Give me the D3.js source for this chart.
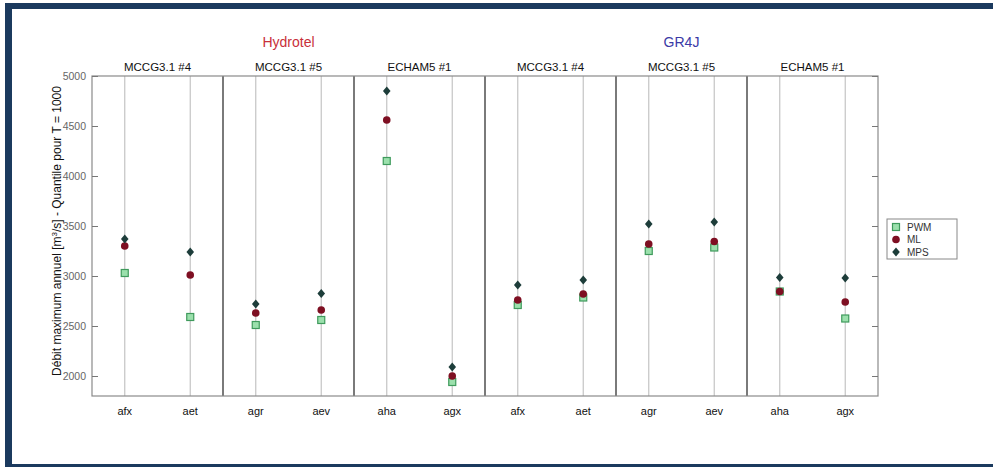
<!DOCTYPE html>
<html>
<head>
<meta charset="utf-8">
<script src="https://cdn.jsdelivr.net/npm/d3@7"></script>
<style>
  body { margin: 0; background: #fff; }
  svg { display: block; font-family: "Liberation Sans", Arial, sans-serif; }
</style>
</head>
<body>
<div id="chart"></div>
<script>
// data
const models = ["Hydrotel", "GR4J"]
const modelColors = ["#c8303a", "#3a3aa6"]
const gcms = ["MCCG3.1 #4", "MCCG3.1 #5", "ECHAM5 #1"]
const stations = ["afx", "aet", "agr", "aev", "aha", "agx"]
const yTicks = [2000, 2500, 3000, 3500, 4000, 4500, 5000]

const pwm = [3030, 2590, 2510, 2560, 4150, 1940, 2710, 2785, 3250, 3285, 2845, 2575]
const ml  = [3300, 3010, 2630, 2660, 4560, 2000, 2760, 2820, 3320, 3345, 2845, 2740]
const mps = [3370, 3240, 2720, 2825, 4850, 2090, 2910, 2960, 3520, 3540, 2985, 2980]

const seriesNames = ["PWM", "ML", "MPS"]

const width = 993, height = 467
const margin = {top: 76, right: 115, bottom: 71, left: 92}
const innerW = width - margin.left - margin.right
const innerH = height - margin.top - margin.bottom

const svg = d3.select("#chart").append("svg")
    .attr("width", width)
    .attr("height", height)

// navy frame (top, left, bottom)
svg.append("rect").attr("x", 5).attr("y", 3).attr("width", width - 5).attr("height", 6).attr("fill", "#1b3a5e")
svg.append("rect").attr("x", 5).attr("y", 3).attr("width", 7).attr("height", height - 3).attr("fill", "#1b3a5e")
svg.append("rect").attr("x", 5).attr("y", 464).attr("width", width - 5).attr("height", 3).attr("fill", "#1b3a5e")

const plt = svg.append("g").attr("transform", "translate(" + margin.left + "," + margin.top + ")")

const panels = []
models.forEach(m => gcms.forEach(g => panels.push(m + "|" + g)))
const cats = []
panels.forEach((p, i) => { cats.push(i * 2); cats.push(i * 2 + 1) })

const xPanel = d3.scaleBand().domain(d3.range(panels.length)).range([0, innerW])
const x = d3.scaleBand().domain(d3.range(cats.length)).range([0, innerW])
const y = d3.scaleLinear().domain([1800, 5000]).range([innerH, 0])

// light vertical lines at each station
plt.selectAll(".vline")
    .data(cats)
    .enter()
    .append("line")
    .attr("x1", d => x(d) + x.bandwidth() / 2)
    .attr("x2", d => x(d) + x.bandwidth() / 2)
    .attr("y1", 0).attr("y2", innerH)
    .style("stroke", "#c4c4c4")
    .style("stroke-width", 1.2)

// panel separators
plt.selectAll(".sep")
    .data(d3.range(1, panels.length))
    .enter()
    .append("line")
    .attr("x1", d => xPanel(d)).attr("x2", d => xPanel(d))
    .attr("y1", 0).attr("y2", innerH)
    .style("stroke", "#7a7a7a")
    .style("stroke-width", 2)

// frame
plt.append("rect")
    .attr("width", innerW).attr("height", innerH)
    .style("fill", "none")
    .style("stroke", "#8a8a8a")
    .style("stroke-width", 1.2)

// y axes, ticks inward like matlab
const yl = plt.append("g")
    .call(d3.axisRight(y).tickValues(yTicks).tickSize(6).tickFormat(""))
yl.select(".domain").remove()
yl.selectAll("line").style("stroke", "#777")
const yr = plt.append("g")
    .attr("transform", "translate(" + innerW + ",0)")
    .call(d3.axisLeft(y).tickValues(yTicks).tickSize(6).tickFormat(""))
yr.select(".domain").remove()
yr.selectAll("line").style("stroke", "#777")

plt.selectAll(".ylab")
    .data(yTicks)
    .enter()
    .append("text")
    .attr("x", -6)
    .attr("y", d => y(d))
    .attr("dy", "0.35em")
    .attr("text-anchor", "end")
    .style("font-size", "10.5px")
    .style("fill", "#666")
    .text(d => d)

// station labels
plt.selectAll(".xlab")
    .data(cats)
    .enter()
    .append("text")
    .attr("x", d => x(d) + x.bandwidth() / 2)
    .attr("y", innerH + 19)
    .attr("text-anchor", "middle")
    .style("font-size", "11px")
    .style("fill", "#111")
    .text(d => stations[d % stations.length])

// panel titles
plt.selectAll(".ptitle")
    .data(panels)
    .enter()
    .append("text")
    .attr("x", (d, i) => xPanel(i) + xPanel.bandwidth() / 2)
    .attr("y", -5)
    .attr("text-anchor", "middle")
    .style("font-size", "11.5px")
    .style("fill", "#111")
    .text(d => d.split("|")[1])

// model titles
plt.selectAll(".mtitle")
    .data(models)
    .enter()
    .append("text")
    .attr("x", (d, i) => xPanel(i * 3) + xPanel.bandwidth() * 1.5)
    .attr("y", -29)
    .attr("text-anchor", "middle")
    .style("font-size", "14px")
    .style("fill", (d, i) => modelColors[i])
    .text(d => d)

// y label
const ylab = svg.append("text")
    .attr("transform", "translate(61," + (margin.top + 155) + ") rotate(-90)")
    .attr("text-anchor", "middle")
    .style("font-size", "12px")
    .style("fill", "#111")
ylab.append("tspan").text("Débit maximum annuel [m")
ylab.append("tspan").attr("baseline-shift", "super").style("font-size", "8px").text("3")
ylab.append("tspan").text("/s] - Quantile pour T = 1000")

// markers
const sq = 7
function drawSeries(values, kind) {
    const g = plt.append("g")
    values.forEach((v, i) => {
        const cx = x(i) + x.bandwidth() / 2, cy = y(v)
        drawMarker(g, kind, cx, cy)
    })
}
function drawMarker(g, kind, cx, cy) {
    if (kind === "PWM") {
        g.append("rect")
            .attr("x", cx - sq / 2).attr("y", cy - sq / 2)
            .attr("width", sq).attr("height", sq)
            .style("fill", "#9be0ac")
            .style("stroke", "#3f9a5c")
            .style("stroke-width", 1.2)
    } else if (kind === "ML") {
        g.append("circle")
            .attr("cx", cx).attr("cy", cy).attr("r", 3.8)
            .style("fill", "#7e0f22")
    } else {
        g.append("path")
            .attr("d", "M0,-4.5L3.8,0L0,4.5L-3.8,0Z")
            .attr("transform", "translate(" + cx + "," + cy + ")")
            .style("fill", "#1d3d3a")
    }
}
drawSeries(pwm, "PWM")
drawSeries(ml, "ML")
drawSeries(mps, "MPS")

// legend
const leg = svg.append("g").attr("transform", "translate(887,219)")
leg.append("rect")
    .attr("width", 70).attr("height", 40)
    .style("fill", "#fff")
    .style("stroke", "#888")
    .style("stroke-width", 1)
seriesNames.forEach((s, i) => {
    const ly = 8 + i * 12.5
    drawMarker(leg, s, 9, ly)
    leg.append("text")
        .attr("x", 20).attr("y", ly)
        .attr("dy", "0.35em")
        .style("font-size", "10px")
        .style("fill", "#333")
        .text(s)
})
</script>
</body>
</html>
